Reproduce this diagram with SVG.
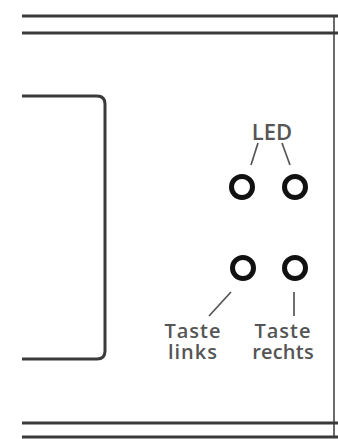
<svg xmlns="http://www.w3.org/2000/svg" width="338" height="439" viewBox="0 0 338 439">
<style>
.rail{stroke:#3a3a3a;stroke-width:3;fill:none}
.edge{stroke:#6a6a6a;stroke-width:2;fill:none}
.ring{stroke:#111;stroke-width:5;fill:#fff}
.lead{stroke:#555;stroke-width:1.7;fill:none}
.lbl{font-family:"Open Sans","DejaVu Sans",sans-serif;font-size:20px;font-weight:600;fill:#555;text-anchor:middle}
</style>
<rect width="338" height="439" fill="#fff"/>
<g id="frame">
<line class="edge" x1="334" y1="16" x2="334" y2="437"/>
<line class="rail" x1="22" y1="16" x2="338" y2="16"/>
<line class="rail" x1="22" y1="33" x2="338" y2="33"/>
<line class="rail" x1="22" y1="423" x2="338" y2="423"/>
<line class="rail" x1="22" y1="437" x2="338" y2="437"/>
</g>
<g id="display">
<path class="rail" d="M22,96 H97 Q105,96 105,104 V351 Q105,359 97,359 H22"/>
</g>
<g id="led-left"><circle class="ring" cx="242" cy="187" r="10.5"/></g>
<g id="led-right"><circle class="ring" cx="295" cy="187" r="10.5"/></g>
<g id="taste-links"><circle class="ring" cx="243" cy="268" r="10.5"/></g>
<g id="taste-rechts"><circle class="ring" cx="295" cy="268" r="10.5"/></g>
<g id="connectors">
<line class="lead" x1="258" y1="143" x2="251" y2="165"/>
<line class="lead" x1="282" y1="143" x2="290" y2="165"/>
<line class="lead" x1="231" y1="292" x2="209" y2="316"/>
<line class="lead" x1="294" y1="292" x2="294" y2="316"/>
</g>
<g id="labels">
<text class="lbl" x="272" y="140" style="font-size:22px">LED</text>
<text class="lbl" letter-spacing="1"><tspan x="193" y="338">Taste</tspan><tspan x="193" y="359">links</tspan></text>
<text class="lbl" letter-spacing="1"><tspan x="283" y="338">Taste</tspan><tspan x="283" y="359" letter-spacing="0.2">rechts</tspan></text>
</g>
</svg>
